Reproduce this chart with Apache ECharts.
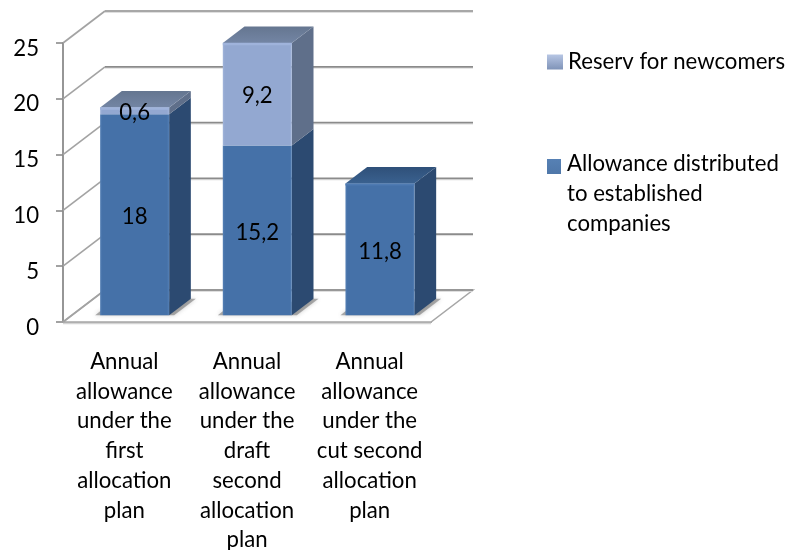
<!DOCTYPE html>
<html><head><meta charset="utf-8">
<style>html,body{margin:0;padding:0;background:#fff}#c{width:792px;height:550px}</style>
<script src="https://cdn.jsdelivr.net/npm/echarts@6/dist/echarts.min.js"></script>
</head><body><div id="c"></div>
<script>
const categories = [
  "Annual\nallowance\nunder the\nfirst\nallocation\nplan",
  "Annual\nallowance\nunder the\ndraft\nsecond\nallocation\nplan",
  "Annual\nallowance\nunder the\ncut second\nallocation\nplan"
];
const allowance = [18, 15.2, 11.8];
const reserve = [0.6, 9.2, null];
const yTicks = [0, 5, 10, 15, 20, 25];
const nameReserve = "Reserv for newcomers";
const nameAllowance = "Allowance distributed\nto established\ncompanies";

const FONT = "Lato";
const FS = 22.2;
const WALL = [42, -32];      // depth of the chart box
const BAR = [21.7, -16.5];   // depth of a bar
const FRONT = [10.3, -6.8];  // gap between box front and bar front
const BAR_RATIO = 0.5625;
const GRID = "#8b8b8b";

const fmt = v => String(v).replace('.', ',');
const vgrad = (a, b) => new echarts.graphic.LinearGradient(0, 0, 0, 1, [{offset:0,color:a},{offset:1,color:b}]);
const hgrad = (s) => new echarts.graphic.LinearGradient(0, 0, 1, 0, s);

function frameItem(params, api) {
  const v = api.value(0);
  const y = api.coord([0, v])[1];
  const a = [params.coordSys.x, y];
  const xEnd = params.coordSys.x + params.coordSys.width + WALL[0];
  const bk = [a[0] + WALL[0], a[1] + WALL[1]];
  const children = [];
  if (v === 0) {
    const fr = [params.coordSys.x + params.coordSys.width, a[1]];
    children.push({type:'polygon', shape:{points:[a, fr, [xEnd, bk[1]], bk]},
      style:{fill:'#ffffff', stroke:'#a6a6a6', lineWidth:1.5}});
    children.push({type:'line', shape:{x1:a[0], y1:a[1]+1.6, x2:fr[0], y2:fr[1]+1.6},
      style:{stroke:'#d4d4d4', lineWidth:1.5}});
  }
  children.push({type:'line', shape:{x1:bk[0], y1:bk[1]+1.4, x2:xEnd, y2:bk[1]+1.4}, style:{stroke:'#dcdcdc', lineWidth:1}});
  children.push({type:'line', shape:{x1:bk[0], y1:bk[1], x2:xEnd, y2:bk[1]}, style:{stroke:GRID, lineWidth:1.7}});
  children.push({type:'line', shape:{x1:a[0], y1:a[1], x2:bk[0], y2:bk[1]}, style:{stroke:'#a3a3a3', lineWidth:1.6}});
  return {type:'group', children};
}

function barItem(pal, isTop) {
  return function (params, api) {
    const cat = api.value(0), y0 = api.value(1), val = api.value(2);
    if (val == null || isNaN(val)) return null;
    const w = api.size([1, 0])[0] * BAR_RATIO;
    const c0 = api.coord([cat, y0]), c1 = api.coord([cat, y0 + val]);
    const L = c0[0] - w / 2 + FRONT[0], R = L + w;
    const B = c0[1] + FRONT[1], T = c1[1] + FRONT[1];
    const dx = BAR[0], dy = BAR[1];
    const kids = [];
    if (y0 === 0) {
      kids.push({type:'polygon', shape:{points:[[L-5,B],[L,B-4],[R+dx,B+dy],[R+dx+5,B+dy],[R+5,B]]},
        style:{fill:'rgba(110,110,110,0.55)', shadowBlur:4, shadowColor:'rgba(110,110,110,0.6)'}});
    }
    kids.push({type:'polygon', shape:{points:[[R,B],[R+dx,B+dy],[R+dx,T+dy],[R,T]]}, style:{fill:pal.side}});
    kids.push({type:'rect', shape:{x:L, y:T, width:w, height:B-T},
      style:{fill:hgrad([{offset:0,color:pal.edge},{offset:0.03,color:pal.face},{offset:0.97,color:pal.face},{offset:1,color:pal.edge}])}});
    if (isTop) {
      kids.push({type:'polygon', shape:{points:[[L,T],[R,T],[R+dx,T+dy],[L+dx,T+dy]]},
        style:{fill:vgrad(pal.topBack, pal.topFront)}});
      kids.push({type:'line', shape:{x1:L, y1:T+1, x2:R, y2:T+1}, style:{stroke:pal.bevel, lineWidth:2.5}});
    }
    kids.push({type:'text', style:{text:fmt(val), x:(L+R)/2, y:(T+B)/2+2, align:'center', verticalAlign:'middle',
      font:FS+'px '+FONT, fill:'#000'}, z2:50});
    return {type:'group', children:kids};
  };
}

const BLUE = {face:'#4571a8', edge:'#5580b5', side:'#2c4a71', topBack:'#2f5079', topFront:'#3a618f', bevel:'#4f7bb2'};
const LIGHT = {face:'#93a8d1', edge:'#a2b5da', side:'#5f6f8a', topBack:'#657690', topFront:'#7385a4', bevel:'#9fb3db'};

const chart = echarts.init(document.getElementById('c'), null, {renderer:'canvas'});
chart.setOption({
  animation:false,
  backgroundColor:'#fff',
  grid:{left:63, top:43, width:368, height:279, containLabel:false, outerBoundsMode:'none'},
  xAxis:{type:'category', data:categories, axisLine:{show:true, lineStyle:{color:'#9a9a9a', width:2}},
    axisTick:{show:false}, axisLabel:{interval:0, margin:25, color:'#000', fontFamily:FONT, fontSize:FS, lineHeight:29.7, align:'center'}},
  yAxis:{type:'value', min:0, max:25, interval:5, splitLine:{show:false},
    axisLine:{show:true, lineStyle:{color:GRID, width:1.8}},
    axisTick:{show:true, length:7, lineStyle:{color:GRID, width:1.6}},
    axisLabel:{margin:24, color:'#000', fontFamily:FONT, fontSize:FS, verticalAlign:'top', lineHeight:11}},
  legend:[
    {show:true, orient:'vertical', left:547, top:47, padding:0, itemWidth:16, itemHeight:15, itemGap:0, icon:'rect', selectedMode:false,
      data:[{name:nameReserve, itemStyle:{color:vgrad('#b7c6e4','#7f93b8')}}],
      textStyle:{fontFamily:FONT, fontSize:FS, color:'#000', lineHeight:30}},
    {show:true, orient:'vertical', left:547, top:149, padding:0, itemWidth:16, itemHeight:88, itemGap:0, selectedMode:false,
      icon:'path://M0 0h.01v.01h-.01z M0 9h14v15h-14z M13.99 87.99h.01v.01h-.01z',
      data:[{name:nameAllowance, itemStyle:{color:vgrad('#5b86bb','#2f5079')}}],
      textStyle:{fontFamily:FONT, fontSize:FS, color:'#000', lineHeight:30}}
  ],
  series:[
    {type:'custom', name:'frame', clip:false, silent:true, z:1, coordinateSystem:'cartesian2d',
      renderItem:frameItem, encode:{y:0}, data:yTicks.map(v=>[v]), tooltip:{show:false}},
    {type:'custom', name:nameAllowance, clip:false, z:2, itemStyle:{color:'#3f6a9e'},
      renderItem:barItem(BLUE, false),
      encode:{x:0,y:2}, data:allowance.map((v,i)=>[i,0,v])},
    {type:'custom', name:nameReserve, clip:false, z:3, itemStyle:{color:'#93a8d1'},
      renderItem:barItem(LIGHT, true),
      encode:{x:0,y:2}, data:reserve.map((v,i)=>[i,allowance[i],v])},
    {type:'custom', name:'top of allowance', clip:false, z:3, silent:true,
      renderItem:function(params, api){
        const cat=api.value(0), val=api.value(1);
        const w=api.size([1,0])[0]*BAR_RATIO, c=api.coord([cat,val]);
        const L=c[0]-w/2+FRONT[0], R=L+w, T=c[1]+FRONT[1];
        return {type:'group',children:[
          {type:'polygon',shape:{points:[[L,T],[R,T],[R+BAR[0],T+BAR[1]],[L+BAR[0],T+BAR[1]]]},style:{fill:vgrad(BLUE.topBack,BLUE.topFront)}},
          {type:'line',shape:{x1:L,y1:T+1,x2:R,y2:T+1},style:{stroke:BLUE.bevel,lineWidth:2}}
        ]};
      },
      encode:{x:0,y:1}, data:allowance.map((v,i)=>[i,v]).filter((d,i)=>reserve[i]==null)}
  ]
});
</script></body></html>
